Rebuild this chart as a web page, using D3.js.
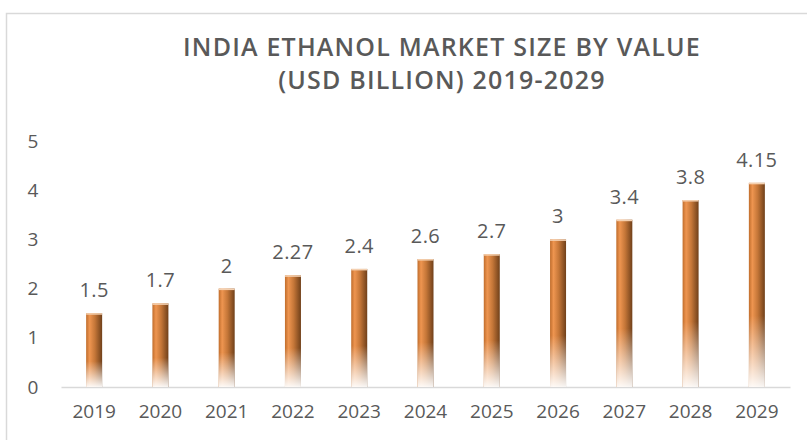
<!DOCTYPE html>
<meta charset="utf-8">
<head>
 <title>India Ethanol Market</title>
</head>

<style>
body { margin: 0; background: #fff; }
text { font-family: "Open Sans", sans-serif; fill: #595959; }
</style>

<body>
 <div id="content">
   <svg width="807" height="440"></svg>
 </div>

 <script src="https://d3js.org/d3.v7.min.js"></script>

 <script>
var width = 807, height = 440

// chart data
var years = ["2019", "2020", "2021", "2022", "2023", "2024", "2025", "2026", "2027", "2028", "2029"]
var values = [1.5, 1.7, 2, 2.27, 2.4, 2.6, 2.7, 3, 3.4, 3.8, 4.15]
var yTicks = [0, 1, 2, 3, 4, 5]
var titleLines = ["INDIA ETHANOL MARKET SIZE BY VALUE", "(USD BILLION) 2019-2029"]

var svg = d3.select('svg')

// outer frame
svg.append('rect')
  .attr('x', 6.5).attr('y', 13.5)
  .attr('width', 820).attr('height', 440)
  .attr('fill', 'none')
  .attr('stroke', '#d9d9d9')
  .attr('stroke-width', 1.5)

var defs = svg.append('defs')

// bar side shading
var hg = defs.append('linearGradient').attr('id', 'barH')
  .attr('x1', 0).attr('x2', 1).attr('y1', 0).attr('y2', 0)
hg.append('stop').attr('offset', '0%').attr('stop-color', '#c06d2c')
hg.append('stop').attr('offset', '22%').attr('stop-color', '#ee9550')
hg.append('stop').attr('offset', '55%').attr('stop-color', '#c47638')
hg.append('stop').attr('offset', '100%').attr('stop-color', '#70401a')

// fade to white at bottom
var vg = defs.append('linearGradient').attr('id', 'barV')
  .attr('x1', 0).attr('x2', 0).attr('y1', 0).attr('y2', 1)
vg.append('stop').attr('offset', '0%').attr('stop-color', '#fff').attr('stop-opacity', 0)
vg.append('stop').attr('offset', '65%').attr('stop-color', '#fff').attr('stop-opacity', 0)
vg.append('stop').attr('offset', '100%').attr('stop-color', '#fff').attr('stop-opacity', 0.95)

var x = d3.scaleBand()
  .domain(years)
  .range([61, 790])

var y = d3.scaleLinear()
  .domain([0, 5])
  .range([387, 141])

// title
svg.selectAll('.title')
  .data(titleLines)
  .enter()
  .append('text')
  .attr('class', 'title')
  .attr('x', 442)
  .attr('y', function(d, i) { return 56 + i * 33 })
  .attr('text-anchor', 'middle')
  .style('font-size', '25px')
  .style('font-weight', 600)
  .style('letter-spacing', '1.2px')
  .text(function(d) { return d })

// y axis labels (no line)
var yAxis = svg.append('g')
  .attr('transform', 'translate(38,0)')
  .call(d3.axisLeft(y).tickValues(yTicks).tickFormat(d3.format('d')).tickSize(0).tickPadding(0))
yAxis.select('.domain').remove()
yAxis.selectAll('text')
  .attr('text-anchor', 'middle')
  .attr('x', -5)
  .style('font-size', '19px')
  .style('fill', '#595959')

// x axis
var xAxis = svg.append('g')
  .attr('transform', 'translate(0,' + y(0) + ')')
  .call(d3.axisBottom(x).tickSize(0).tickPadding(18))
xAxis.select('.domain').attr('stroke', '#d9d9d9').attr('stroke-width', 1.5)
xAxis.selectAll('text')
  .style('font-size', '19px')
  .style('fill', '#595959')

var barW = 16
var bars = svg.selectAll('.bar')
  .data(values)
  .enter()
  .append('g')
  .attr('class', 'bar')

bars.append('rect')
  .attr('x', function(d, i) { return x(years[i]) + x.bandwidth() / 2 - barW / 2 })
  .attr('y', function(d) { return y(d) })
  .attr('width', barW)
  .attr('height', function(d) { return y(0) - y(d) })
  .attr('fill', 'url(#barH)')

bars.append('rect')
  .attr('x', function(d, i) { return x(years[i]) + x.bandwidth() / 2 - barW / 2 })
  .attr('y', function(d) { return y(d) })
  .attr('width', barW)
  .attr('height', function(d) { return y(0) - y(d) })
  .attr('fill', 'url(#barV)')

// light rim on top
bars.append('rect')
  .attr('x', function(d, i) { return x(years[i]) + x.bandwidth() / 2 - barW / 2 })
  .attr('y', function(d) { return y(d) })
  .attr('width', barW)
  .attr('height', 1.5)
  .attr('fill', '#f4d0b0')

// value labels
bars.append('text')
  .attr('x', function(d, i) { return x(years[i]) + x.bandwidth() / 2 })
  .attr('y', function(d) { return y(d) - 16 })
  .attr('text-anchor', 'middle')
  .style('font-size', '20px')
  .style('letter-spacing', '0.4px')
  .text(function(d) { return d })
 </script>
</body>
</html>
